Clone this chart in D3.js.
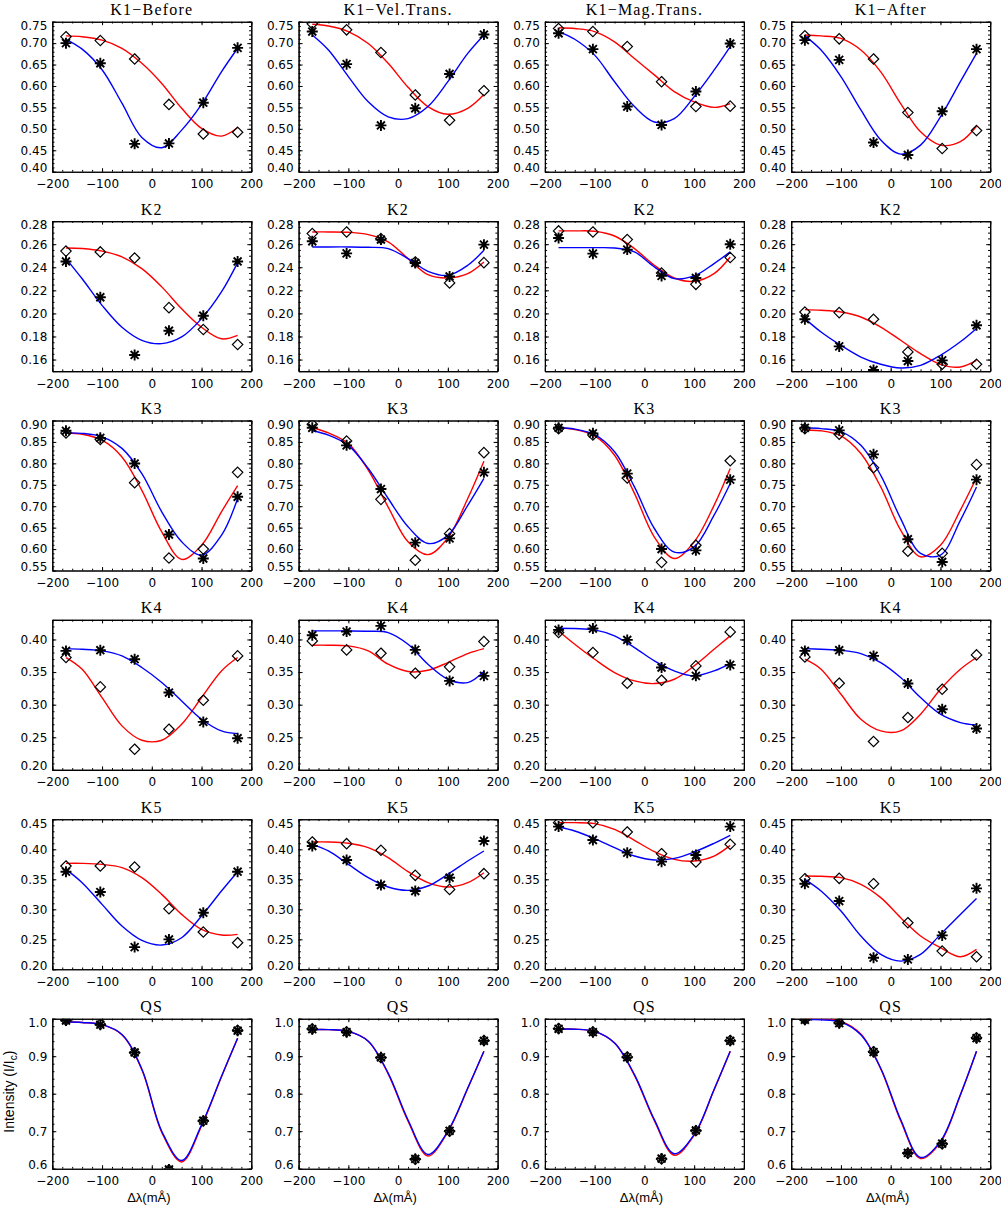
<!DOCTYPE html>
<html>
<head>
<meta charset="utf-8">
<script src="https://cdn.jsdelivr.net/npm/d3@7"></script>
<style>
  body { margin: 0; background: #fff; }
  .title { font-family: "Liberation Serif", "Times New Roman", serif; font-size: 16px; letter-spacing: 1.2px; }
</style>
</head>
<body>
<svg id="fig" width="1001" height="1209"></svg>
<script>
// wavelength positions of the observed points and of the sampled fit curves (mÅ)
const obsX = [-172.5, -103.5, -34.5, 34.5, 103.5, 172.5];
const fitX = [-172.5, -140, -100, -60, -20, 20, 60, 100, 140, 172.5];

const rowNames = ['K1', 'K2', 'K3', 'K4', 'K5', 'QS'];
const k1Stages = ['Before', 'Vel.Trans.', 'Mag.Trans.', 'After'];

const xRange = [-200, 200];
const xTickValues = [-200, -100, 0, 100, 200];
const yRanges = [[0.40, 0.75], [0.15, 0.28], [0.55, 0.90], [0.20, 0.43], [0.20, 0.45], [0.60, 1.00]];
const yTickValues = [
  [0.40, 0.45, 0.50, 0.55, 0.60, 0.65, 0.70, 0.75],
  [0.16, 0.18, 0.20, 0.22, 0.24, 0.26, 0.28],
  [0.55, 0.60, 0.65, 0.70, 0.75, 0.80, 0.85, 0.90],
  [0.20, 0.25, 0.30, 0.35, 0.40],
  [0.20, 0.25, 0.30, 0.35, 0.40, 0.45],
  [0.6, 0.7, 0.8, 0.9, 1.0]
];
const yMinorStep = [0.01, 0.005, 0.01, 0.01, 0.01, 0.02];
const yDigits = [2, 2, 2, 2, 2, 1];

// asterisks (blue fits) and diamonds (red fits), one array per column
const k1Stars = [
  [0.700, 0.653, 0.465, 0.466, 0.561, 0.689],
  [0.727, 0.651, 0.508, 0.548, 0.628, 0.720],
  [0.723, 0.686, 0.552, 0.509, 0.587, 0.699],
  [0.707, 0.661, 0.468, 0.439, 0.541, 0.686]
];
const k1Diamonds = [
  [0.715, 0.706, 0.663, 0.557, 0.488, 0.492],
  [0.745, 0.731, 0.678, 0.579, 0.520, 0.589],
  [0.734, 0.727, 0.692, 0.610, 0.552, 0.553],
  [0.717, 0.710, 0.663, 0.538, 0.454, 0.496]
];
const k1Blue = [
  [0.709, 0.686, 0.638, 0.560, 0.480, 0.456, 0.497, 0.557, 0.633, 0.688],
  [0.719, 0.684, 0.622, 0.563, 0.528, 0.524, 0.552, 0.610, 0.676, 0.719],
  [0.727, 0.709, 0.672, 0.610, 0.552, 0.516, 0.524, 0.575, 0.637, 0.692],
  [0.717, 0.684, 0.622, 0.544, 0.474, 0.441, 0.462, 0.528, 0.610, 0.676]
];
const k1Red = [
  [0.717, 0.715, 0.707, 0.688, 0.653, 0.606, 0.548, 0.501, 0.483, 0.503],
  [0.744, 0.740, 0.727, 0.699, 0.653, 0.597, 0.552, 0.534, 0.548, 0.580],
  [0.736, 0.734, 0.727, 0.703, 0.664, 0.626, 0.587, 0.563, 0.550, 0.559],
  [0.719, 0.717, 0.711, 0.684, 0.633, 0.559, 0.493, 0.462, 0.470, 0.506]
];

const k2Stars = [
  [0.245, 0.214, 0.164, 0.185, 0.198, 0.245],
  [0.2625, 0.252, 0.264, 0.2437, 0.232, 0.2596],
  [0.2654, 0.2518, 0.2553, 0.2325, 0.2307, 0.2599],
  [0.195, 0.1714, 0.151, 0.1587, 0.1593, 0.1897]
];
const k2Diamonds = [
  [0.254, 0.2533, 0.248, 0.205, 0.186, 0.173],
  [0.2692, 0.2706, 0.2648, 0.2446, 0.2264, 0.244],
  [0.2715, 0.2706, 0.264, 0.235, 0.2252, 0.2484],
  [0.2012, 0.2007, 0.1949, 0.1666, 0.1559, 0.1559]
];
const k2Blue = [
  [0.2475, 0.230, 0.207, 0.188, 0.1767, 0.1738, 0.1796, 0.1955, 0.2186, 0.244],
  [0.2576, 0.2576, 0.2576, 0.2573, 0.2562, 0.2475, 0.2365, 0.233, 0.2417, 0.2547],
  [0.257, 0.257, 0.257, 0.2567, 0.2533, 0.2403, 0.2302, 0.2325, 0.2432, 0.2533],
  [0.1955, 0.1839, 0.1723, 0.1622, 0.1559, 0.1527, 0.155, 0.1637, 0.1754, 0.187]
];
const k2Red = [
  [0.2567, 0.2562, 0.254, 0.249, 0.2388, 0.223, 0.204, 0.188, 0.178, 0.181],
  [0.2706, 0.2706, 0.2703, 0.2683, 0.262, 0.2475, 0.2336, 0.2307, 0.2345, 0.2446],
  [0.2715, 0.2715, 0.2712, 0.2671, 0.2562, 0.2417, 0.2307, 0.2278, 0.2345, 0.2489],
  [0.2033, 0.2027, 0.2012, 0.1969, 0.1882, 0.1767, 0.1651, 0.1559, 0.1536, 0.1593]
];

const k3Stars = [
  [0.876, 0.8595, 0.7996, 0.634, 0.578, 0.722],
  [0.883, 0.842, 0.740, 0.615, 0.625, 0.779],
  [0.883, 0.870, 0.776, 0.600, 0.597, 0.762],
  [0.883, 0.877, 0.821, 0.623, 0.570, 0.762]
];
const k3Diamonds = [
  [0.871, 0.8557, 0.755, 0.579, 0.600, 0.779],
  [0.891, 0.852, 0.716, 0.574, 0.636, 0.825],
  [0.881, 0.866, 0.766, 0.569, 0.609, 0.806],
  [0.881, 0.868, 0.790, 0.595, 0.590, 0.797]
];
const k3Blue = [
  [0.871, 0.870, 0.862, 0.835, 0.776, 0.687, 0.617, 0.586, 0.632, 0.718],
  [0.876, 0.866, 0.842, 0.788, 0.718, 0.652, 0.613, 0.632, 0.702, 0.765],
  [0.883, 0.880, 0.867, 0.827, 0.745, 0.648, 0.593, 0.605, 0.679, 0.753],
  [0.883, 0.881, 0.874, 0.842, 0.772, 0.671, 0.590, 0.586, 0.667, 0.745]
];
const k3Red = [
  [0.871, 0.868, 0.854, 0.815, 0.737, 0.640, 0.576, 0.609, 0.687, 0.748],
  [0.883, 0.871, 0.846, 0.784, 0.698, 0.617, 0.587, 0.626, 0.718, 0.805],
  [0.883, 0.879, 0.864, 0.819, 0.730, 0.628, 0.578, 0.617, 0.702, 0.788],
  [0.877, 0.876, 0.864, 0.823, 0.745, 0.644, 0.582, 0.609, 0.691, 0.767]
];

const k4Stars = [
  [0.3825, 0.3835, 0.3697, 0.3186, 0.2736, 0.2486],
  [0.4065, 0.4121, 0.4208, 0.384, 0.3365, 0.3442],
  [0.4147, 0.4167, 0.3993, 0.3569, 0.3442, 0.361],
  [0.3825, 0.3835, 0.3748, 0.3324, 0.293, 0.2634]
];
const k4Diamonds = [
  [0.3723, 0.3273, 0.2317, 0.2624, 0.3068, 0.3748],
  [0.3978, 0.384, 0.3789, 0.3482, 0.358, 0.3968],
  [0.4106, 0.3799, 0.3329, 0.3375, 0.3595, 0.4116],
  [0.3733, 0.3329, 0.2435, 0.2803, 0.3237, 0.3763]
];
const k4Blue = [
  [0.386, 0.385, 0.3825, 0.3748, 0.357, 0.334, 0.3058, 0.2777, 0.2598, 0.2557],
  [0.4131, 0.4131, 0.4131, 0.4126, 0.4106, 0.3927, 0.362, 0.339, 0.3339, 0.3508],
  [0.4172, 0.4167, 0.4147, 0.4055, 0.3876, 0.3671, 0.3518, 0.3442, 0.3518, 0.363],
  [0.386, 0.385, 0.3835, 0.3784, 0.3646, 0.3416, 0.3109, 0.2854, 0.2726, 0.269]
];
const k4Red = [
  [0.3723, 0.3544, 0.3109, 0.2675, 0.2455, 0.2455, 0.27, 0.311, 0.3518, 0.3723],
  [0.3912, 0.3912, 0.3901, 0.3825, 0.362, 0.3508, 0.3528, 0.3646, 0.3784, 0.386],
  [0.4131, 0.3927, 0.3697, 0.3493, 0.3365, 0.3324, 0.339, 0.3595, 0.385, 0.4055],
  [0.3697, 0.3544, 0.316, 0.2777, 0.2598, 0.2598, 0.2854, 0.3237, 0.3544, 0.3723]
];

const k5Stars = [
  [0.3627, 0.3288, 0.237, 0.2498, 0.2943, 0.3627],
  [0.4055, 0.3822, 0.3405, 0.3305, 0.3527, 0.4139],
  [0.4378, 0.4155, 0.3944, 0.3794, 0.3905, 0.4378],
  [0.3427, 0.3138, 0.2193, 0.2165, 0.2565, 0.3349]
];
const k5Diamonds = [
  [0.3722, 0.3722, 0.3705, 0.301, 0.2621, 0.2443],
  [0.4122, 0.4094, 0.3983, 0.3566, 0.3332, 0.3594],
  [0.4444, 0.4444, 0.4289, 0.3927, 0.3788, 0.4083],
  [0.351, 0.3516, 0.3427, 0.2776, 0.2304, 0.2209]
];
const k5Blue = [
  [0.3666, 0.3444, 0.3082, 0.2721, 0.2482, 0.2404, 0.2526, 0.2888, 0.3305, 0.3627],
  [0.4083, 0.3972, 0.3749, 0.3527, 0.3371, 0.3316, 0.3388, 0.3583, 0.3805, 0.3972],
  [0.4372, 0.4305, 0.4178, 0.4027, 0.3888, 0.3822, 0.3849, 0.3955, 0.41, 0.4233],
  [0.3499, 0.3305, 0.2971, 0.2554, 0.2248, 0.2137, 0.2248, 0.2582, 0.2915, 0.318]
];
const k5Red = [
  [0.3766, 0.3766, 0.3749, 0.3694, 0.3527, 0.3249, 0.2915, 0.2665, 0.2571, 0.2582],
  [0.4122, 0.4122, 0.41, 0.4027, 0.3861, 0.3627, 0.3444, 0.3371, 0.3444, 0.361],
  [0.4444, 0.4444, 0.4428, 0.4333, 0.415, 0.3961, 0.3833, 0.3805, 0.3888, 0.4066],
  [0.3555, 0.355, 0.3527, 0.3416, 0.3194, 0.286, 0.2554, 0.236, 0.221, 0.2332]
];

const qsStars = [
  [0.995, 0.984, 0.910, 0.598, 0.728, 0.968],
  [0.972, 0.964, 0.897, 0.626, 0.701, 0.941],
  [0.973, 0.964, 0.897, 0.627, 0.702, 0.941],
  [0.997, 0.988, 0.911, 0.642, 0.667, 0.948]
];
const qsDiamonds = [
  [0.996, 0.985, 0.909, 0.597, 0.727, 0.969],
  [0.973, 0.965, 0.896, 0.625, 0.700, 0.942],
  [0.974, 0.965, 0.898, 0.626, 0.701, 0.942],
  [0.998, 0.989, 0.912, 0.641, 0.666, 0.949]
];
const qsBlue = [
  [0.992, 0.990, 0.984, 0.958, 0.866, 0.700, 0.622, 0.717, 0.846, 0.948],
  [0.971, 0.971, 0.966, 0.940, 0.855, 0.730, 0.638, 0.700, 0.815, 0.913],
  [0.972, 0.972, 0.966, 0.935, 0.851, 0.731, 0.640, 0.691, 0.811, 0.913],
  [0.997, 0.997, 0.991, 0.957, 0.868, 0.731, 0.630, 0.673, 0.797, 0.913]
];
const qsRed = [
  [0.992, 0.990, 0.984, 0.957, 0.864, 0.697, 0.618, 0.714, 0.845, 0.948],
  [0.971, 0.971, 0.966, 0.940, 0.853, 0.727, 0.634, 0.698, 0.814, 0.913],
  [0.972, 0.972, 0.966, 0.935, 0.849, 0.728, 0.636, 0.689, 0.810, 0.913],
  [0.999, 0.999, 0.993, 0.959, 0.866, 0.728, 0.627, 0.670, 0.796, 0.913]
];

const rowStars = [k1Stars, k2Stars, k3Stars, k4Stars, k5Stars, qsStars];
const rowDiamonds = [k1Diamonds, k2Diamonds, k3Diamonds, k4Diamonds, k5Diamonds, qsDiamonds];
const rowBlue = [k1Blue, k2Blue, k3Blue, k4Blue, k5Blue, qsBlue];
const rowRed = [k1Red, k2Red, k3Red, k4Red, k5Red, qsRed];

/* layout */
const svg = d3.select('#fig');
const plotW = 199, plotH = 150;
const colLeft = c => 52.3 + c * 246.3;
const rowTop = r => 21.7 + r * 199.4;
const sansFont = '"DejaVu Sans", "Liberation Sans", sans-serif';

const minorTicks = (dom, step) => {
  const n = Math.round((dom[1] - dom[0]) / step);
  return d3.range(n + 1).map(i => dom[0] + i * step);
};

const starPath = (() => {
  const r = 5.5, d = r * 0.72;
  return `M${-r},0H${r}M0,${-r}V${r}M${-d},${-d}L${d},${d}M${-d},${d}L${d},${-d}`;
})();
const diamondPath = 'M0,-5.2L5.2,0L0,5.2L-5.2,0Z';

const defs = svg.append('defs');

rowNames.forEach((rowName, r) => {
  for (let c = 0; c < 4; c++) {
    const g = svg.append('g')
      .attr('transform', `translate(${colLeft(c)},${rowTop(r)})`);

    const xScale = d3.scaleLinear().domain(xRange).range([0, plotW]);
    const yScale = d3.scaleLinear().domain(yRanges[r]).range([plotH, 0]);
    const dom = yRanges[r];

    const clipId = `clip-${r}-${c}`;
    defs.append('clipPath').attr('id', clipId)
      .append('rect').attr('width', plotW).attr('height', plotH);

    // title
    const title = r === 0 ? `${rowName}−${k1Stages[c]}` : rowName;
    g.append('text')
      .attr('class', 'title')
      .attr('x', plotW / 2)
      .attr('y', -6.5)
      .attr('text-anchor', 'middle')
      .text(title);

    // minor ticks on all four sides
    const xMinor = minorTicks(xRange, 20);
    const yMinor = minorTicks(dom, yMinorStep[r]);
    g.append('g').attr('transform', `translate(0,${plotH})`)
      .call(d3.axisBottom(xScale).tickValues(xMinor).tickSize(-1.8).tickSizeOuter(0).tickFormat(''));
    g.append('g')
      .call(d3.axisTop(xScale).tickValues(xMinor).tickSize(-1.8).tickSizeOuter(0).tickFormat(''));
    g.append('g')
      .call(d3.axisLeft(yScale).tickValues(yMinor).tickSize(-2.2).tickSizeOuter(0).tickFormat(''));
    g.append('g').attr('transform', `translate(${plotW},0)`)
      .call(d3.axisRight(yScale).tickValues(yMinor).tickSize(-2.2).tickSizeOuter(0).tickFormat(''));

    // major ticks and labels
    const xAxisG = g.append('g').attr('transform', `translate(0,${plotH})`)
      .call(d3.axisBottom(xScale).tickValues(xTickValues).tickSize(-3.5).tickSizeOuter(0)
        .tickPadding(8).tickFormat(d => d3.format('d')(d).replace('-', '−')));
    xAxisG.selectAll('text')
      .attr('font-family', sansFont).attr('font-size', 12).attr('fill', '#000');
    g.append('g')
      .call(d3.axisTop(xScale).tickValues(xTickValues).tickSize(-3.5).tickSizeOuter(0).tickFormat(''));

    const yAxisG = g.append('g')
      .call(d3.axisLeft(yScale).tickValues(yTickValues[r]).tickSize(-4).tickSizeOuter(0)
        .tickPadding(5).tickFormat(d3.format(`.${yDigits[r]}f`)));
    yAxisG.selectAll('text')
      .attr('font-family', sansFont).attr('font-size', 12).attr('fill', '#000')
      .attr('y', d => Math.abs(d - dom[1]) < 1e-9 ? 4 : (Math.abs(d - dom[0]) < 1e-9 ? -4 : 0));
    g.append('g').attr('transform', `translate(${plotW},0)`)
      .call(d3.axisRight(yScale).tickValues(yTickValues[r]).tickSize(-4).tickSizeOuter(0).tickFormat(''));

    g.selectAll('.domain').attr('stroke', '#000').attr('stroke-width', 1.1);
    g.selectAll('.tick line').attr('stroke', '#000').attr('stroke-width', 1);

    // fit curves
    const plotG = g.append('g').attr('clip-path', `url(#${clipId})`);
    const lineGenerator = d3.line()
      .x((d, i) => xScale(fitX[i]))
      .y(d => yScale(d))
      .curve(d3.curveCatmullRom.alpha(0.5));

    plotG.append('path')
      .attr('d', lineGenerator(rowRed[r][c]))
      .attr('fill', 'none').attr('stroke', '#ff0000').attr('stroke-width', 1.4);
    plotG.append('path')
      .attr('d', lineGenerator(rowBlue[r][c]))
      .attr('fill', 'none').attr('stroke', '#0000ff').attr('stroke-width', 1.4);

    // markers
    plotG.selectAll('.diamond').data(rowDiamonds[r][c])
      .enter().append('path')
      .attr('class', 'diamond')
      .attr('transform', (d, i) => `translate(${xScale(obsX[i])},${yScale(d)})`)
      .attr('d', diamondPath)
      .attr('fill', 'none').attr('stroke', '#000').attr('stroke-width', 1.2);

    plotG.selectAll('.star').data(rowStars[r][c])
      .enter().append('path')
      .attr('class', 'star')
      .attr('transform', (d, i) => `translate(${xScale(obsX[i])},${yScale(d)})`)
      .attr('d', starPath)
      .attr('fill', 'none').attr('stroke', '#000').attr('stroke-width', 1.9);

    // bottom row axis titles
    if (r === rowNames.length - 1) {
      g.append('text')
        .attr('x', plotW / 2 - 3)
        .attr('y', plotH + 33)
        .attr('text-anchor', 'middle')
        .attr('font-family', '"Liberation Sans", sans-serif')
        .attr('font-size', 13)
        .text('Δλ(mÅ)');
      if (c === 0) {
        const yt = g.append('text')
          .attr('transform', `translate(-38,${plotH / 2 - 2}) rotate(-90)`)
          .attr('text-anchor', 'middle')
          .attr('font-family', '"Liberation Sans", sans-serif')
          .attr('font-size', 14);
        yt.append('tspan').text('Intensity (I/I');
        yt.append('tspan').attr('font-size', 10).attr('dy', 3).text('c');
        yt.append('tspan').attr('dy', -3).text(')');
      }
    }
  }
});
</script>
</body>
</html>
